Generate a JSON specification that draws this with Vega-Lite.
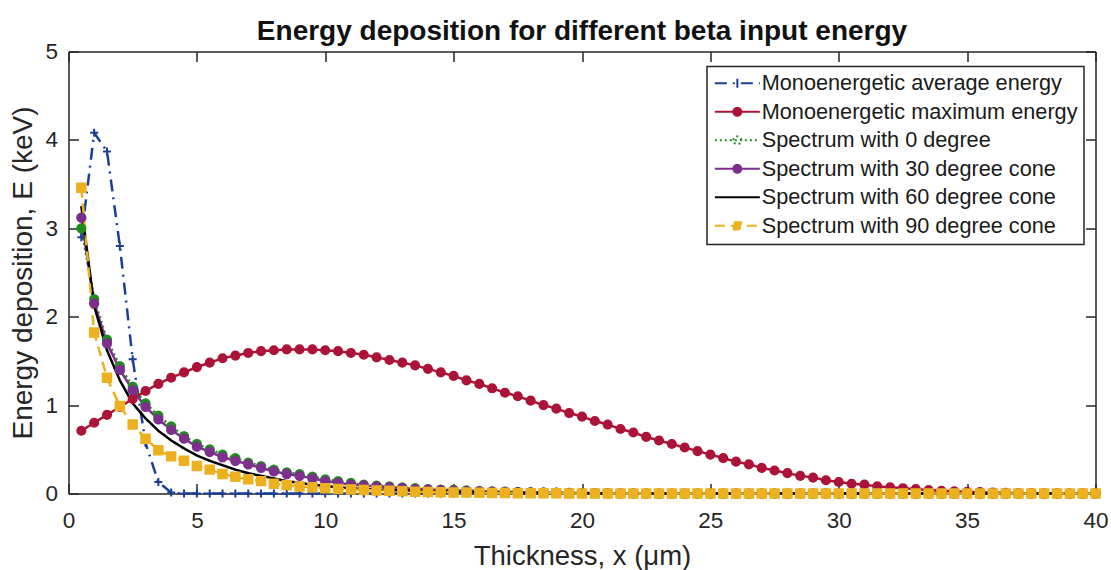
{
  "$schema": "https://vega.github.io/schema/vega-lite/v6.json",
  "width": 1027,
  "height": 442,
  "autosize": {"type": "none"},
  "padding": {"left": 68.5, "top": 51.5, "right": 15, "bottom": 76},
  "background": "white",
  "config": {"view": {"stroke": null}, "font": "Liberation Sans"},
  "title": {
    "text": "Energy deposition for different beta input energy",
    "font": "Liberation Sans",
    "fontSize": 28,
    "fontWeight": "bold",
    "color": "#111111",
    "anchor": "middle",
    "offset": -5
  },
  "data": {
    "values": [
      {"x": 0.5, "avg": 2.9, "max": 0.71, "s0": 3.0, "s30": 3.12, "s60": 3.25, "s90": 3.46},
      {"x": 1.0, "avg": 4.08, "max": 0.8, "s0": 2.2, "s30": 2.15, "s60": 2.12, "s90": 1.82},
      {"x": 1.5, "avg": 3.87, "max": 0.89, "s0": 1.74, "s30": 1.7, "s60": 1.62, "s90": 1.31},
      {"x": 2.0, "avg": 2.8, "max": 0.98, "s0": 1.44, "s30": 1.4, "s60": 1.28, "s90": 0.99},
      {"x": 2.5, "avg": 1.52, "max": 1.07, "s0": 1.21, "s30": 1.17, "s60": 1.02, "s90": 0.78},
      {"x": 3.0, "avg": 0.57, "max": 1.16, "s0": 1.02, "s30": 0.98, "s60": 0.85, "s90": 0.62},
      {"x": 3.5, "avg": 0.13, "max": 1.24, "s0": 0.88, "s30": 0.84, "s60": 0.71, "s90": 0.49},
      {"x": 4.0, "avg": 0.01, "max": 1.31, "s0": 0.76, "s30": 0.72, "s60": 0.6, "s90": 0.42},
      {"x": 4.5, "avg": 0, "max": 1.37, "s0": 0.65, "s30": 0.62, "s60": 0.51, "s90": 0.37},
      {"x": 5.0, "avg": 0, "max": 1.43, "s0": 0.56, "s30": 0.53, "s60": 0.43, "s90": 0.31},
      {"x": 5.5, "avg": 0, "max": 1.48, "s0": 0.5, "s30": 0.47, "s60": 0.37, "s90": 0.27},
      {"x": 6.0, "avg": 0, "max": 1.53, "s0": 0.44, "s30": 0.41, "s60": 0.32, "s90": 0.22},
      {"x": 6.5, "avg": 0, "max": 1.56, "s0": 0.4, "s30": 0.37, "s60": 0.27, "s90": 0.19},
      {"x": 7.0, "avg": 0, "max": 1.59, "s0": 0.35, "s30": 0.33, "s60": 0.23, "s90": 0.16},
      {"x": 7.5, "avg": 0, "max": 1.61, "s0": 0.31, "s30": 0.29, "s60": 0.2, "s90": 0.14},
      {"x": 8.0, "avg": 0, "max": 1.62, "s0": 0.27, "s30": 0.25, "s60": 0.17, "s90": 0.11},
      {"x": 8.5, "avg": 0, "max": 1.63, "s0": 0.24, "s30": 0.22, "s60": 0.14, "s90": 0.095},
      {"x": 9.0, "avg": 0, "max": 1.63, "s0": 0.22, "s30": 0.2, "s60": 0.12, "s90": 0.08},
      {"x": 9.5, "avg": 0, "max": 1.63, "s0": 0.19, "s30": 0.17, "s60": 0.1, "s90": 0.07},
      {"x": 10.0, "avg": 0, "max": 1.62, "s0": 0.16, "s30": 0.14, "s60": 0.085, "s90": 0.06},
      {"x": 10.5, "avg": 0, "max": 1.61, "s0": 0.14, "s30": 0.12, "s60": 0.07, "s90": 0.05},
      {"x": 11.0, "avg": 0, "max": 1.59, "s0": 0.12, "s30": 0.1, "s60": 0.06, "s90": 0.045},
      {"x": 11.5, "avg": 0, "max": 1.57, "s0": 0.1, "s30": 0.09, "s60": 0.05, "s90": 0.04},
      {"x": 12.0, "avg": 0, "max": 1.54, "s0": 0.09, "s30": 0.08, "s60": 0.045, "s90": 0.035},
      {"x": 12.5, "avg": 0, "max": 1.51, "s0": 0.08, "s30": 0.07, "s60": 0.04, "s90": 0.03},
      {"x": 13.0, "avg": 0, "max": 1.48, "s0": 0.07, "s30": 0.06, "s60": 0.035, "s90": 0.025},
      {"x": 13.5, "avg": 0, "max": 1.45, "s0": 0.06, "s30": 0.05, "s60": 0.03, "s90": 0.02},
      {"x": 14.0, "avg": 0, "max": 1.41, "s0": 0.05, "s30": 0.045, "s60": 0.025, "s90": 0.018},
      {"x": 14.5, "avg": 0, "max": 1.37, "s0": 0.045, "s30": 0.04, "s60": 0.02, "s90": 0.015},
      {"x": 15.0, "avg": 0, "max": 1.33, "s0": 0.04, "s30": 0.035, "s60": 0.018, "s90": 0.012},
      {"x": 15.5, "avg": 0, "max": 1.28, "s0": 0.035, "s30": 0.03, "s60": 0.015, "s90": 0.01},
      {"x": 16.0, "avg": 0, "max": 1.24, "s0": 0.03, "s30": 0.025, "s60": 0.012, "s90": 0.008},
      {"x": 16.5, "avg": 0, "max": 1.19, "s0": 0.025, "s30": 0.02, "s60": 0.01, "s90": 0.006},
      {"x": 17.0, "avg": 0, "max": 1.14, "s0": 0.02, "s30": 0.018, "s60": 0.008, "s90": 0.005},
      {"x": 17.5, "avg": 0, "max": 1.1, "s0": 0.018, "s30": 0.015, "s60": 0.006, "s90": 0.004},
      {"x": 18.0, "avg": 0, "max": 1.05, "s0": 0.015, "s30": 0.012, "s60": 0.005, "s90": 0.003},
      {"x": 18.5, "avg": 0, "max": 1.0, "s0": 0.012, "s30": 0.01, "s60": 0.004, "s90": 0.002},
      {"x": 19.0, "avg": 0, "max": 0.96, "s0": 0.01, "s30": 0.008, "s60": 0.003, "s90": 0.002},
      {"x": 19.5, "avg": 0, "max": 0.91, "s0": 0.008, "s30": 0.006, "s60": 0.002, "s90": 0.001},
      {"x": 20.0, "avg": 0, "max": 0.87, "s0": 0.006, "s30": 0.005, "s60": 0.002, "s90": 0.001},
      {"x": 20.5, "avg": 0, "max": 0.82, "s0": 0.005, "s30": 0.004, "s60": 0.001, "s90": 0},
      {"x": 21.0, "avg": 0, "max": 0.78, "s0": 0.004, "s30": 0.003, "s60": 0, "s90": 0},
      {"x": 21.5, "avg": 0, "max": 0.73, "s0": 0.003, "s30": 0.002, "s60": 0, "s90": 0},
      {"x": 22.0, "avg": 0, "max": 0.69, "s0": 0.002, "s30": 0.001, "s60": 0, "s90": 0},
      {"x": 22.5, "avg": 0, "max": 0.64, "s0": 0, "s30": 0, "s60": 0, "s90": 0},
      {"x": 23.0, "avg": 0, "max": 0.6, "s0": 0, "s30": 0, "s60": 0, "s90": 0},
      {"x": 23.5, "avg": 0, "max": 0.56, "s0": 0, "s30": 0, "s60": 0, "s90": 0},
      {"x": 24.0, "avg": 0, "max": 0.52, "s0": 0, "s30": 0, "s60": 0, "s90": 0},
      {"x": 24.5, "avg": 0, "max": 0.48, "s0": 0, "s30": 0, "s60": 0, "s90": 0},
      {"x": 25.0, "avg": 0, "max": 0.44, "s0": 0, "s30": 0, "s60": 0, "s90": 0},
      {"x": 25.5, "avg": 0, "max": 0.4, "s0": 0, "s30": 0, "s60": 0, "s90": 0},
      {"x": 26.0, "avg": 0, "max": 0.36, "s0": 0, "s30": 0, "s60": 0, "s90": 0},
      {"x": 26.5, "avg": 0, "max": 0.33, "s0": 0, "s30": 0, "s60": 0, "s90": 0},
      {"x": 27.0, "avg": 0, "max": 0.29, "s0": 0, "s30": 0, "s60": 0, "s90": 0},
      {"x": 27.5, "avg": 0, "max": 0.26, "s0": 0, "s30": 0, "s60": 0, "s90": 0},
      {"x": 28.0, "avg": 0, "max": 0.23, "s0": 0, "s30": 0, "s60": 0, "s90": 0},
      {"x": 28.5, "avg": 0, "max": 0.2, "s0": 0, "s30": 0, "s60": 0, "s90": 0},
      {"x": 29.0, "avg": 0, "max": 0.18, "s0": 0, "s30": 0, "s60": 0, "s90": 0},
      {"x": 29.5, "avg": 0, "max": 0.15, "s0": 0, "s30": 0, "s60": 0, "s90": 0},
      {"x": 30.0, "avg": 0, "max": 0.13, "s0": 0, "s30": 0, "s60": 0, "s90": 0},
      {"x": 30.5, "avg": 0, "max": 0.11, "s0": 0, "s30": 0, "s60": 0, "s90": 0},
      {"x": 31.0, "avg": 0, "max": 0.1, "s0": 0, "s30": 0, "s60": 0, "s90": 0},
      {"x": 31.5, "avg": 0, "max": 0.08, "s0": 0, "s30": 0, "s60": 0, "s90": 0},
      {"x": 32.0, "avg": 0, "max": 0.07, "s0": 0, "s30": 0, "s60": 0, "s90": 0},
      {"x": 32.5, "avg": 0, "max": 0.06, "s0": 0, "s30": 0, "s60": 0, "s90": 0},
      {"x": 33.0, "avg": 0, "max": 0.05, "s0": 0, "s30": 0, "s60": 0, "s90": 0},
      {"x": 33.5, "avg": 0, "max": 0.04, "s0": 0, "s30": 0, "s60": 0, "s90": 0},
      {"x": 34.0, "avg": 0, "max": 0.03, "s0": 0, "s30": 0, "s60": 0, "s90": 0},
      {"x": 34.5, "avg": 0, "max": 0.025, "s0": 0, "s30": 0, "s60": 0, "s90": 0},
      {"x": 35.0, "avg": 0, "max": 0.02, "s0": 0, "s30": 0, "s60": 0, "s90": 0},
      {"x": 35.5, "avg": 0, "max": 0.015, "s0": 0, "s30": 0, "s60": 0, "s90": 0},
      {"x": 36.0, "avg": 0, "max": 0.01, "s0": 0, "s30": 0, "s60": 0, "s90": 0},
      {"x": 36.5, "avg": 0, "max": 0.008, "s0": 0, "s30": 0, "s60": 0, "s90": 0},
      {"x": 37.0, "avg": 0, "max": 0.005, "s0": 0, "s30": 0, "s60": 0, "s90": 0},
      {"x": 37.5, "avg": 0, "max": 0.003, "s0": 0, "s30": 0, "s60": 0, "s90": 0},
      {"x": 38.0, "avg": 0, "max": 0, "s0": 0, "s30": 0, "s60": 0, "s90": 0},
      {"x": 38.5, "avg": 0, "max": 0, "s0": 0, "s30": 0, "s60": 0, "s90": 0},
      {"x": 39.0, "avg": 0, "max": 0, "s0": 0, "s30": 0, "s60": 0, "s90": 0},
      {"x": 39.5, "avg": 0, "max": 0, "s0": 0, "s30": 0, "s60": 0, "s90": 0},
      {"x": 40.0, "avg": 0, "max": 0, "s0": 0, "s30": 0, "s60": 0, "s90": 0}
    ]
  },
  "transform": [
    {"fold": ["avg", "max", "s0", "s30", "s60", "s90"], "as": ["series", "E"]}
  ],
  "layer": [
    {
      "mark": {"type": "line", "strokeWidth": 2.5, "clip": false},
      "encoding": {
        "x": {
          "field": "x",
          "type": "quantitative",
          "scale": {"domain": [0, 40], "nice": false, "zero": false},
          "axis": {
            "orient": "bottom",
            "values": [0, 5, 10, 15, 20, 25, 30, 35, 40],
            "grid": false,
            "tickSize": -10,
            "tickWidth": 1.5,
            "tickColor": "#262626",
            "domainColor": "#262626",
            "domainWidth": 1.5,
            "labelPadding": 26,
            "labelFont": "Liberation Sans",
            "labelFontSize": 22.5,
            "labelColor": "#262626",
            "labelFlush": false,
            "title": "Thickness, x (μm)",
            "titleFont": "Liberation Sans",
            "titleFontSize": 27.5,
            "titleFontWeight": "normal",
            "titleColor": "#262626",
            "titlePadding": 10
          }
        },
        "y": {
          "field": "E",
          "type": "quantitative",
          "scale": {"domain": [0, 5], "nice": false},
          "axis": {
            "orient": "left",
            "values": [0, 1, 2, 3, 4, 5],
            "grid": false,
            "tickSize": -10,
            "tickWidth": 1.5,
            "tickColor": "#262626",
            "domainColor": "#262626",
            "domainWidth": 1.5,
            "labelPadding": 21,
            "labelFont": "Liberation Sans",
            "labelFontSize": 22.5,
            "labelColor": "#262626",
            "labelFlush": false,
            "title": "Energy deposition, E (keV)",
            "titleFont": "Liberation Sans",
            "titleFontSize": 28,
            "titleFontWeight": "normal",
            "titleColor": "#262626",
            "titlePadding": 7
          }
        },
        "color": {
          "field": "series",
          "type": "nominal",
          "scale": {
            "domain": ["avg", "max", "s0", "s30", "s60", "s90"],
            "range": ["#1c3f94", "#ab1438", "#1f8c1f", "#7e2f8e", "#000000", "#edb120"]
          },
          "legend": {
            "title": null,
            "orient": "none",
            "legendX": 638.5,
            "legendY": 15,
            "padding": 6,
            "strokeColor": "#262626",
            "fillColor": "white",
            "rowPadding": 5.5,
            "symbolSize": 324,
            "symbolStrokeWidth": 2,
            "labelOffset": 27,
            "labelFont": "Liberation Sans",
            "labelFontSize": 21.7,
            "labelColor": "#1a1a1a",
            "labelLimit": 0,
            "labelExpr": "datum.value === 'avg' ? 'Monoenergetic average energy' : datum.value === 'max' ? 'Monoenergetic maximum energy' : datum.value === 's0' ? 'Spectrum with 0 degree' : datum.value === 's30' ? 'Spectrum with 30 degree cone' : datum.value === 's60' ? 'Spectrum with 60 degree cone' : 'Spectrum with 90 degree cone'",
            "encode": {
              "legend": {"update": {"strokeWidth": {"value": 1.5}}},
              "symbols": {
                "update": {
                  "shape": {"signal": "datum.value === 'avg' ? 'M-1,0H4M1.5,-0.5V0.5' : datum.value === 's60' ? 'M-1,0H4' : datum.value === 's90' ? 'M-1,0H4M1.1,-0.4H1.9V0.4H1.1Z' : 'M-1,0H4M1.06,0A0.44,0.44 0 1 1 1.94,0A0.44,0.44 0 1 1 1.06,0Z'"},
                  "fill": {"signal": "datum.value === 'avg' ? '#1c3f94' : datum.value === 'max' ? '#ab1438' : datum.value === 's0' ? '#ffffff' : datum.value === 's30' ? '#7e2f8e' : datum.value === 's60' ? '#000000' : '#edb120'"},
                  "stroke": {"signal": "datum.value === 'avg' ? '#1c3f94' : datum.value === 'max' ? '#ab1438' : datum.value === 's0' ? '#1f8c1f' : datum.value === 's30' ? '#7e2f8e' : datum.value === 's60' ? '#000000' : '#edb120'"},
                  "fillOpacity": {"value": 1}
                }
              }
            }
          }
        },
        "strokeDash": {
          "field": "series",
          "type": "nominal",
          "scale": {
            "domain": ["avg", "max", "s0", "s30", "s60", "s90"],
            "range": [[12, 6, 2, 6], [1, 0], [2, 3], [1, 0], [1, 0], [10, 6]]
          }
        }
      }
    },
    {
      "transform": [{"filter": "datum.series !== 's60'"}],
      "mark": {"type": "point", "filled": true, "strokeWidth": 2, "opacity": 1, "clip": false},
      "encoding": {
        "x": {
          "field": "x",
          "type": "quantitative",
          "scale": {"domain": [0, 40], "nice": false, "zero": false},
          "axis": {
            "orient": "top",
            "values": [0, 5, 10, 15, 20, 25, 30, 35, 40],
            "grid": false,
            "labels": false,
            "title": null,
            "tickSize": -10,
            "tickWidth": 1.5,
            "tickColor": "#262626",
            "domainColor": "#262626",
            "domainWidth": 1.5
          }
        },
        "y": {
          "field": "E",
          "type": "quantitative",
          "scale": {"domain": [0, 5], "nice": false},
          "axis": {
            "orient": "right",
            "values": [0, 1, 2, 3, 4, 5],
            "grid": false,
            "labels": false,
            "title": null,
            "tickSize": -10,
            "tickWidth": 1.5,
            "tickColor": "#262626",
            "domainColor": "#262626",
            "domainWidth": 1.5
          }
        },
        "shape": {
          "field": "series",
          "type": "nominal",
          "scale": {
            "domain": ["avg", "max", "s0", "s30", "s90"],
            "range": ["M-1,0H1M0,-1V1", "circle", "circle", "circle", "square"]
          },
          "legend": null
        },
        "size": {
          "field": "series",
          "type": "nominal",
          "scale": {
            "domain": ["avg", "max", "s0", "s30", "s90"],
            "range": [64, 72, 72, 60, 42]
          },
          "legend": null
        },
        "fill": {
          "field": "series",
          "type": "nominal",
          "scale": {
            "domain": ["avg", "max", "s0", "s30", "s90"],
            "range": ["#1c3f94", "#ab1438", "#1f8c1f", "#7e2f8e", "#edb120"]
          },
          "legend": null
        },
        "stroke": {
          "field": "series",
          "type": "nominal",
          "scale": {
            "domain": ["avg", "max", "s0", "s30", "s90"],
            "range": ["#1c3f94", "#ab1438", "#1f8c1f", "#7e2f8e", "#edb120"]
          },
          "legend": null
        }
      }
    }
  ],
  "resolve": {
    "axis": {"x": "independent", "y": "independent"}
  }
}
